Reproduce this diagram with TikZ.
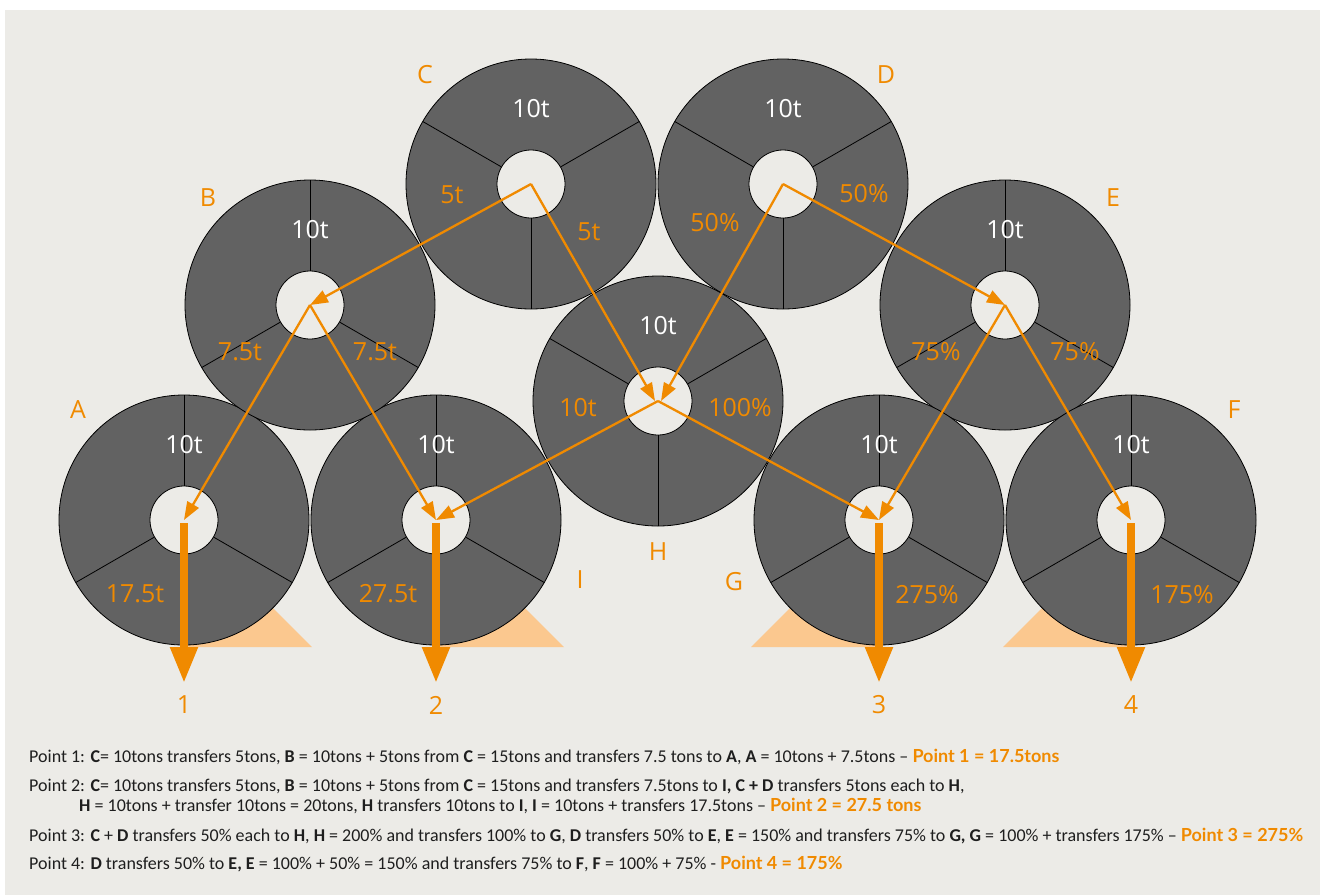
\documentclass[tikz,border=0pt]{standalone}
\usepackage{fontspec}
\setmainfont{Carlito}
\newfontfamily\lblfont{Open Sans}
\newfontfamily\hifont{Lato}
\usepackage{tikz}
\usetikzlibrary{arrows.meta}

\definecolor{bgbeige}{RGB}{236,235,231}
\definecolor{wheelgrey}{RGB}{98,98,98}
\definecolor{ptorange}{RGB}{240,138,0}
\definecolor{wedgepeach}{RGB}{251,200,143}
\definecolor{textdark}{RGB}{30,30,30}

\newcommand{\hl}[1]{{\hifont\bfseries\color{ptorange}#1}}

\begin{document}
\begin{tikzpicture}[
  x=1pt, y=-1pt,
  wheel/.style={circle, draw=black, line width=0.8pt, fill=wheelgrey,
                minimum size=250pt, inner sep=0pt},
  hole/.style={circle, draw=black, line width=0.8pt, fill=bgbeige,
               minimum size=68pt, inner sep=0pt},
  spoke/.style={draw=black, line width=0.8pt},
  tval/.style={text=white, font=\lblfont\fontsize{25}{25}\selectfont, inner sep=0pt},
  oval/.style={text=ptorange, font=\lblfont\fontsize{25}{25}\selectfont, inner sep=0pt},
  flowarrow/.style={draw=ptorange, line width=2.3pt,
                    -{Triangle[length=18pt, width=13pt]}},
  bigarrow/.style={draw=ptorange, line width=8pt,
                   -{Triangle[length=36pt, width=26pt]}},
  wedge/.style={fill=wedgepeach},
  txt/.style={anchor=base west, inner sep=0pt, text=textdark,
              font=\fontsize{18}{20}\selectfont},
]
\useasboundingbox (0,0) rectangle (1320,895);
\fill[white] (0,0) rectangle (1320,895);
\fill[bgbeige] (5,10) rectangle (1320,895);

% peach wedges behind the bottom wheels
\fill[wedge] (184,647) -- (312,647) -- (184,519) -- cycle;
\fill[wedge] (436,647) -- (564,647) -- (436,519) -- cycle;
\fill[wedge] (879,647) -- (751,647) -- (879,519) -- cycle;
\fill[wedge] (1131,647) -- (1003,647) -- (1131,519) -- cycle;

% wheels: name / x / y / direction of first spoke
\foreach \n/\x/\y/\r in {A/184/520/90, I/436/520/90, B/310/305/90,
                         C/531/184/270, D/783/184/270, H/658/401/270,
                         E/1005/305/90, G/879/520/90, F/1131/520/90} {
  \node[wheel] (\n) at (\x,\y) {};
  \foreach \a in {0,120,240}
    \draw[spoke] (\n.center) -- ++(\r+\a:125pt);
  \node[hole] (h\n) at (\n.center) {};
  \node[tval] at (\x,\y-75) {10t};
}

% wheel letters
\node[oval] (lA) at (78,410)   {A};
\node[oval] (lB) at (208,198)  {B};
\node[oval] (lC) at (425,75)   {C};
\node[oval] (lD) at (886,75)   {D};
\node[oval] (lE) at (1113,198) {E};
\node[oval] (lF) at (1234,410) {F};
\node[oval] (lG) at (734,582)  {G};
\node[oval] (lH) at (658,552)  {H};
\node[oval] (lI) at (580,580)  {I};

% transferred amounts
\node[oval] at (452,195)  {5t};
\node[oval] at (589,232)  {5t};
\node[oval] at (715,223)  {50\%};
\node[oval] at (864,194)  {50\%};
\node[oval] at (240,352)  {7.5t};
\node[oval] at (375,352)  {7.5t};
\node[oval] at (578,408)  {10t};
\node[oval] at (740,408)  {100\%};
\node[oval] at (936,352)  {75\%};
\node[oval] at (1075,352) {75\%};
\node[oval] at (135,594)  {17.5t};
\node[oval] at (388,594)  {27.5t};
\node[oval] at (927,595)  {275\%};
\node[oval] at (1182,595) {175\%};

% transfers between wheels
\draw[flowarrow] (C.center) -- (B.center);
\draw[flowarrow] (C.center) -- ([xshift=-3pt]H.center);
\draw[flowarrow] (D.center) -- ([xshift=3pt]H.center);
\draw[flowarrow] (D.center) -- (E.center);
\draw[flowarrow] (B.center) -- (A.center);
\draw[flowarrow] (B.center) -- (I.center);
\draw[flowarrow] (H.center) -- (I.center);
\draw[flowarrow] (H.center) -- (G.center);
\draw[flowarrow] (E.center) -- (G.center);
\draw[flowarrow] (E.center) -- (F.center);

% output points
\node[oval] (p1) at (184,705)  {1};
\node[oval] (p2) at (436,705)  {2};
\node[oval] (p3) at (879,705)  {3};
\node[oval] (p4) at (1131,705) {4};
\coordinate (e1) at (184,683);
\coordinate (e2) at (436,683);
\coordinate (e3) at (879,683);
\coordinate (e4) at (1131,683);
\draw[bigarrow] ([yshift=-3pt]A.center) -- (e1);
\draw[bigarrow] ([yshift=-3pt]I.center) -- (e2);
\draw[bigarrow] ([yshift=-3pt]G.center) -- (e3);
\draw[bigarrow] ([yshift=-3pt]F.center) -- (e4);

% explanation
\node[txt] (t1) at (29,762) {Point 1: \textbf{C}= 10tons transfers 5tons, \textbf{B} = 10tons + 5tons from \textbf{C} = 15tons and transfers 7.5 tons to \textbf{A}, \textbf{A} = 10tons + 7.5tons – \hl{Point 1 = 17.5tons}};
\node[txt] (t2) at (29,791) {Point 2: \textbf{C}= 10tons transfers 5tons, \textbf{B} = 10tons + 5tons from \textbf{C} = 15tons and transfers 7.5tons to \textbf{I, C + D} transfers 5tons each to \textbf{H},};
\node[txt] (t2b) at (79,811) {\textbf{H} = 10tons + transfer 10tons = 20tons, \textbf{H} transfers 10tons to \textbf{I}, \textbf{I} = 10tons + transfers 17.5tons – \hl{Point 2 = 27.5 tons}};
\node[txt] (t3) at (29,841) {Point 3: \textbf{C} + \textbf{D} transfers 50\% each to \textbf{H}, \textbf{H} = 200\% and transfers 100\% to \textbf{G}, \textbf{D} transfers 50\% to \textbf{E}, \textbf{E} = 150\% and transfers 75\% to \textbf{G, G} = 100\% + transfers 175\% – \hl{Point 3 = 275\%}};
\node[txt] (t4) at (29,869) {Point 4: \textbf{D} transfers 50\% to \textbf{E, E} = 100\% + 50\% = 150\% and transfers 75\% to \textbf{F}, \textbf{F} = 100\% + 75\% - \hl{Point 4 = 175\%}};
\end{tikzpicture}
\end{document}
